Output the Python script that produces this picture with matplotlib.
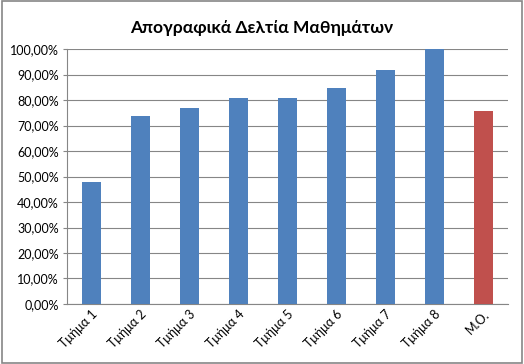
import matplotlib
matplotlib.use("Agg")
import matplotlib.pyplot as plt
from matplotlib.patches import Rectangle
from matplotlib.ticker import FuncFormatter

labels = ["Τμήμα 1", "Τμήμα 2", "Τμήμα 3", "Τμήμα 4", "Τμήμα 5",
          "Τμήμα 6", "Τμήμα 7", "Τμήμα 8", "Μ.Ο."]
values = [0.478, 0.737, 0.768, 0.808, 0.810, 0.848, 0.920, 1.000, 0.757]
colors = ["#4F81BD"] * 8 + ["#C0504D"]

plt.rcParams['font.family'] = ['Lato', 'DejaVu Sans']

fig = plt.figure(figsize=(5.24, 3.64), dpi=100)
ax = fig.add_axes([0.128, 0.165, 0.841, 0.700])

x = range(len(labels))
ax.bar(x, values, width=0.39, color=colors, zorder=3)

ax.set_ylim(0, 1.0)
ax.set_xlim(-0.5, len(labels) - 0.5)
ax.set_yticks([i / 10 for i in range(11)])
ax.yaxis.set_major_formatter(FuncFormatter(lambda v, p: f"{v*100:.2f}%".replace(".", ",")))
ax.grid(axis='y', color='#868686', linewidth=0.8, zorder=0)
ax.set_xticks(list(x))
ax.set_xticklabels(labels, rotation=45, ha='right', rotation_mode='anchor')
ax.tick_params(axis='both', labelsize=9, colors='#000000', length=0, pad=3)
ax.tick_params(axis='y', length=3, color='#868686')

for s in ['top', 'right']:
    ax.spines[s].set_visible(False)
for s in ['left', 'bottom']:
    ax.spines[s].set_color('#868686')
    ax.spines[s].set_linewidth(0.8)

fig.suptitle("Απογραφικά Δελτία Μαθημάτων", x=0.5, y=0.945, fontsize=12.5, fontweight='bold')

fig.patches.append(Rectangle((0.003, 0.004), 0.994, 0.992, transform=fig.transFigure,
                             fill=False, edgecolor='#868686', linewidth=1.2))

fig.savefig("out.png", dpi=100)
